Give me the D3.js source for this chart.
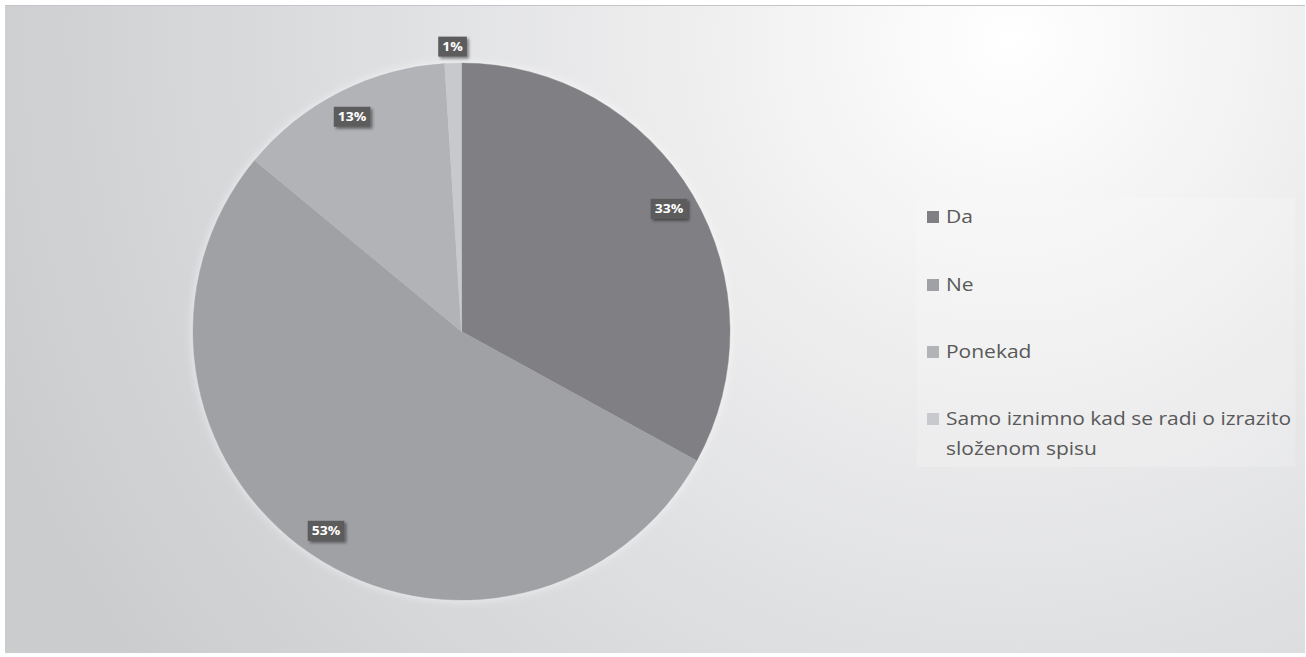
<!DOCTYPE html>
<html>
<head>
<meta charset="utf-8">
<script src="https://cdn.jsdelivr.net/npm/d3@7"></script>
<style>
  html, body { margin: 0; padding: 0; background: #ffffff; }
  svg { display: block; }
</style>
</head>
<body>
<svg id="chart" width="1306" height="657"></svg>
<script>
// ---- data ----
const categories = ["Da", "Ne", "Ponekad", "Samo iznimno kad se radi o izrazito složenom spisu"];
const values = [33, 53, 13, 1];
const labels = ["33%", "53%", "13%", "1%"];
const legendLines = [["Da"], ["Ne"], ["Ponekad"], ["Samo iznimno kad se radi o izrazito", "složenom spisu"]];
const colors = ["#808084", "#a0a1a5", "#b2b3b7", "#c8c9cc"];

const W = 1306, H = 657;
const svg = d3.select("#chart");
const defs = svg.append("defs");

// background gradient
const bg = defs.append("radialGradient")
  .attr("id", "bgGrad")
  .attr("gradientUnits", "userSpaceOnUse")
  .attr("cx", 1010).attr("cy", 40).attr("r", 1080)
  .attr("fx", 1010).attr("fy", 40);
bg.append("stop").attr("offset", "0").attr("stop-color", "#ffffff");
bg.append("stop").attr("offset", "0.3").attr("stop-color", "#eeeeef");
bg.append("stop").attr("offset", "0.65").attr("stop-color", "#dbdcde");
bg.append("stop").attr("offset", "1").attr("stop-color", "#cbccce");

svg.append("rect")
  .attr("x", 5).attr("y", 5).attr("width", 1300).attr("height", 648)
  .attr("fill", "url(#bgGrad)");
svg.append("line").attr("x1", 5).attr("x2", 1305).attr("y1", 5.5).attr("y2", 5.5)
  .attr("stroke", "#c4c5c8").attr("stroke-width", 1);

// shadow filters
const sh = defs.append("filter").attr("id", "pieShadow")
  .attr("x", "-10%").attr("y", "-10%").attr("width", "120%").attr("height", "120%");
sh.append("feGaussianBlur").attr("in", "SourceAlpha").attr("stdDeviation", 5).attr("result", "b");
sh.append("feFlood").attr("flood-color", "#ffffff").attr("flood-opacity", 0.6).attr("result", "c");
sh.append("feComposite").attr("in", "c").attr("in2", "b").attr("operator", "in").attr("result", "s");
const m1 = sh.append("feMerge");
m1.append("feMergeNode").attr("in", "s");
m1.append("feMergeNode").attr("in", "SourceGraphic");

const lsh = defs.append("filter").attr("id", "lblShadow")
  .attr("x", "-30%").attr("y", "-30%").attr("width", "170%").attr("height", "170%");
lsh.append("feGaussianBlur").attr("in", "SourceAlpha").attr("stdDeviation", 1.5).attr("result", "b");
lsh.append("feOffset").attr("in", "b").attr("dx", 2).attr("dy", 2).attr("result", "o");
lsh.append("feComponentTransfer").attr("in", "o").attr("result", "o2")
  .append("feFuncA").attr("type", "linear").attr("slope", 0.45);
const m2 = lsh.append("feMerge");
m2.append("feMergeNode").attr("in", "o2");
m2.append("feMergeNode").attr("in", "SourceGraphic");

// pie
const cx = 461.5, cy = 331.5, R = 268.5;
const pie = d3.pie().sort(null).value(d => d)(values);
const arc = d3.arc().innerRadius(0).outerRadius(R);
const color = d3.scaleOrdinal().domain(categories).range(colors);

const g = svg.append("g").attr("transform", `translate(${cx},${cy})`);
g.append("g").attr("filter", "url(#pieShadow)")
  .selectAll("path").data(pie).join("path")
  .attr("d", arc)
  .attr("fill", (d, i) => color(categories[i]))
  .attr("stroke", (d, i) => color(categories[i]))
  .attr("stroke-width", 0.5);

// data labels
const inArc = d3.arc().innerRadius(241).outerRadius(241);
const outArc = d3.arc().innerRadius(285).outerRadius(285);
const lblScale = 1.12;
const lbl = g.selectAll("g.lbl").data(pie).join("g")
  .attr("class", "lbl")
  .attr("transform", (d, i) => {
    const p = (d.endAngle - d.startAngle) < 0.15 ? outArc.centroid(d) : inArc.centroid(d);
    return `translate(${p[0]},${p[1]})`;
  });
lbl.each(function (d, i) {
  const sel = d3.select(this);
  const t = sel.append("text")
    .attr("text-anchor", "middle")
    .attr("dy", "0.36em")
    .attr("transform", `scale(${lblScale},1)`)
    .attr("fill", "#ffffff")
    .attr("font-family", "'Open Sans', sans-serif")
    .attr("font-weight", "bold")
    .attr("font-size", 12.5)
    .text(labels[i]);
  const w = t.node().getComputedTextLength() * lblScale;
  sel.insert("rect", "text")
    .attr("x", -w / 2 - 4).attr("y", -10)
    .attr("width", w + 8).attr("height", 20)
    .attr("fill", "#5b5b5d")
    .attr("filter", "url(#lblShadow)");
});

// legend
const lg = svg.append("g");
lg.append("rect")
  .attr("x", 916.5).attr("y", 198).attr("width", 379).attr("height", 269)
  .attr("fill", "#ffffff").attr("fill-opacity", 0.18);
const itemY = [223, 291, 358, 425];
const items = lg.selectAll("g.item").data(categories).join("g")
  .attr("class", "item")
  .attr("transform", (d, i) => `translate(927,${itemY[i]})`);
items.append("rect")
  .attr("x", 0).attr("y", -12).attr("width", 12).attr("height", 12)
  .attr("fill", d => color(d));
items.append("g").attr("transform", "translate(19,0) scale(1.2,1)")
  .append("text")
  .attr("x", 0).attr("y", 0)
  .attr("fill", "#595959")
  .attr("font-family", "'Open Sans', sans-serif")
  .attr("font-size", 17.5)
  .each(function (d, i) {
    const t = d3.select(this);
    legendLines[i].forEach((line, j) => {
      t.append("tspan").attr("x", 0).attr("dy", j === 0 ? 0 : 30).text(line);
    });
  });
</script>
</body>
</html>
